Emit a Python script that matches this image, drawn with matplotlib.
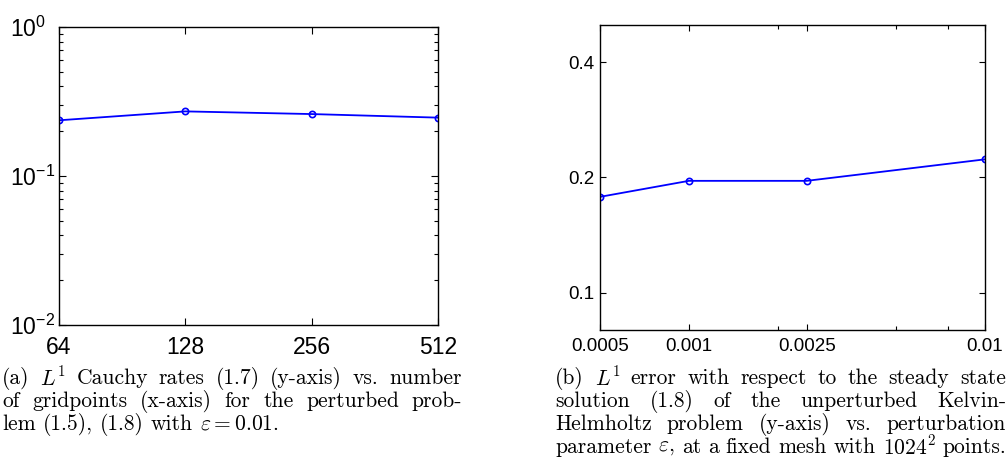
import numpy as np
import matplotlib
matplotlib.use('Agg')
import matplotlib.pyplot as plt
from matplotlib.ticker import FixedLocator, FixedFormatter, NullLocator, LogLocator

# (a) Cauchy rates vs gridpoints
gridpoints = [64, 128, 256, 512]
cauchy_rates = [0.237, 0.272, 0.261, 0.247]

# (b) L1 error vs perturbation parameter
eps_values = [0.0005, 0.001, 0.0025, 0.01]
eps_labels = ['0.0005', '0.001', '0.0025', '0.01']
l1_error = [0.178, 0.196, 0.196, 0.223]
err_ticks = [0.1, 0.2, 0.4]
err_labels = ['0.1', '0.2', '0.4']

caption_a = ["(a) $L^1$ Cauchy rates (1.7) (y-axis) vs. number",
             "of gridpoints (x-axis) for the perturbed prob-",
             "lem (1.5), (1.8) with $\\varepsilon = 0.01$."]
caption_b = ["(b) $L^1$ error with respect to the steady state",
             "solution (1.8) of the unperturbed Kelvin-",
             "Helmholtz problem (y-axis) vs. perturbation",
             "parameter $\\varepsilon$, at a fixed mesh with $1024^2$ points."]

plt.rcParams['font.family'] = ['Liberation Sans', 'DejaVu Sans']
plt.rcParams['mathtext.fontset'] = 'custom'
plt.rcParams['mathtext.rm'] = 'Liberation Sans'
plt.rcParams['mathtext.it'] = 'Liberation Sans:italic'
plt.rcParams['mathtext.bf'] = 'Liberation Sans:bold'

W, H = 1008, 461
fig = plt.figure(figsize=(W / 100, H / 100), dpi=100)

# ---- left plot
ax1 = fig.add_axes([0.0585, 0.295, 0.376, 0.646])
ax1.plot(gridpoints, cauchy_rates, '-o', color='#0000ff', lw=1.3,
         markersize=4.5, markerfacecolor='none', markeredgewidth=1.2)
ax1.set_xscale('log', base=2)
ax1.set_yscale('log')
ax1.set_xlim(64, 512)
ax1.set_ylim(0.01, 1)
ax1.xaxis.set_major_locator(FixedLocator(gridpoints))
ax1.xaxis.set_major_formatter(FixedFormatter([str(g) for g in gridpoints]))
ax1.xaxis.set_minor_locator(NullLocator())
ax1.yaxis.set_major_locator(FixedLocator([0.01, 0.1, 1]))
ax1.yaxis.set_major_formatter(FixedFormatter(['$10^{-2}$', '$10^{-1}$', '$10^{0}$']))
ax1.yaxis.set_minor_locator(LogLocator(base=10, subs=np.arange(2, 10)))
ax1.yaxis.set_minor_formatter(FixedFormatter([]))
ax1.tick_params(which='both', direction='in', top=True, right=True, width=0.8)
ax1.tick_params(which='major', length=5, labelsize=16.5)
ax1.tick_params(axis='x', which='major', pad=8)
ax1.tick_params(axis='y', which='major', pad=35)
ax1.tick_params(which='minor', length=3)
for lab in ax1.get_yticklabels():
    lab.set_horizontalalignment('left')

# ---- right plot
ax2 = fig.add_axes([0.595, 0.284, 0.382, 0.662])
ax2.plot(eps_values, l1_error, '-o', color='#0000ff', lw=1.3,
         markersize=4.5, markerfacecolor='none', markeredgewidth=1.2)
ax2.set_xscale('log')
ax2.set_yscale('log')
ax2.set_xlim(0.0005, 0.01)
ax2.set_ylim(0.08, 0.5)
ax2.xaxis.set_major_locator(FixedLocator(eps_values))
ax2.xaxis.set_major_formatter(FixedFormatter(eps_labels))
ax2.xaxis.set_minor_locator(FixedLocator([0.002, 0.005, 0.0075]))
ax2.xaxis.set_minor_formatter(FixedFormatter([]))
ax2.yaxis.set_major_locator(FixedLocator(err_ticks))
ax2.yaxis.set_major_formatter(FixedFormatter(err_labels))
ax2.yaxis.set_minor_locator(NullLocator())
ax2.tick_params(which='both', direction='in', top=True, right=True, width=0.8)
ax2.tick_params(which='major', length=4, labelsize=13.5, pad=4)
ax2.tick_params(axis='x', which='major', pad=6)
ax2.tick_params(which='minor', length=3)

for ax in (ax1, ax2):
    for sp in ax.spines.values():
        sp.set_linewidth(1.0)

# ---- captions (justified by spreading words over the column width)
renderer = fig.canvas.get_renderer()
cap_size = 15.5


def text_width(s):
    t = fig.text(0, 0, s, fontsize=cap_size, family='cmr10', math_fontfamily='cm')
    w = t.get_window_extent(renderer).width
    t.remove()
    return w


def put_line(line, x0, x1, y, justify):
    words = line.split(' ')
    # keep math segments together
    merged = []
    buf = ''
    for w in words:
        buf = w if buf == '' else buf + ' ' + w
        if buf.count('$') % 2 == 0:
            merged.append(buf)
            buf = ''
    widths = [text_width(w) for w in merged]
    sp = text_width('a a') - text_width('aa')
    if justify and len(merged) > 1:
        gap = ((x1 - x0) - sum(widths)) / (len(merged) - 1)
    else:
        gap = sp
    x = x0
    for w, wd in zip(merged, widths):
        fig.text(x / W, y, w, fontsize=cap_size, family='cmr10',
                 math_fontfamily='cm', va='center', ha='left')
        x += wd + gap


line_y = [378, 401, 424, 447]
for i, line in enumerate(caption_a):
    put_line(line, 2, 462, 1 - line_y[i] / H, i < len(caption_a) - 1)
for i, line in enumerate(caption_b):
    put_line(line, 555, 1006, 1 - line_y[i] / H, True)

fig.savefig('out.png', dpi=100)
